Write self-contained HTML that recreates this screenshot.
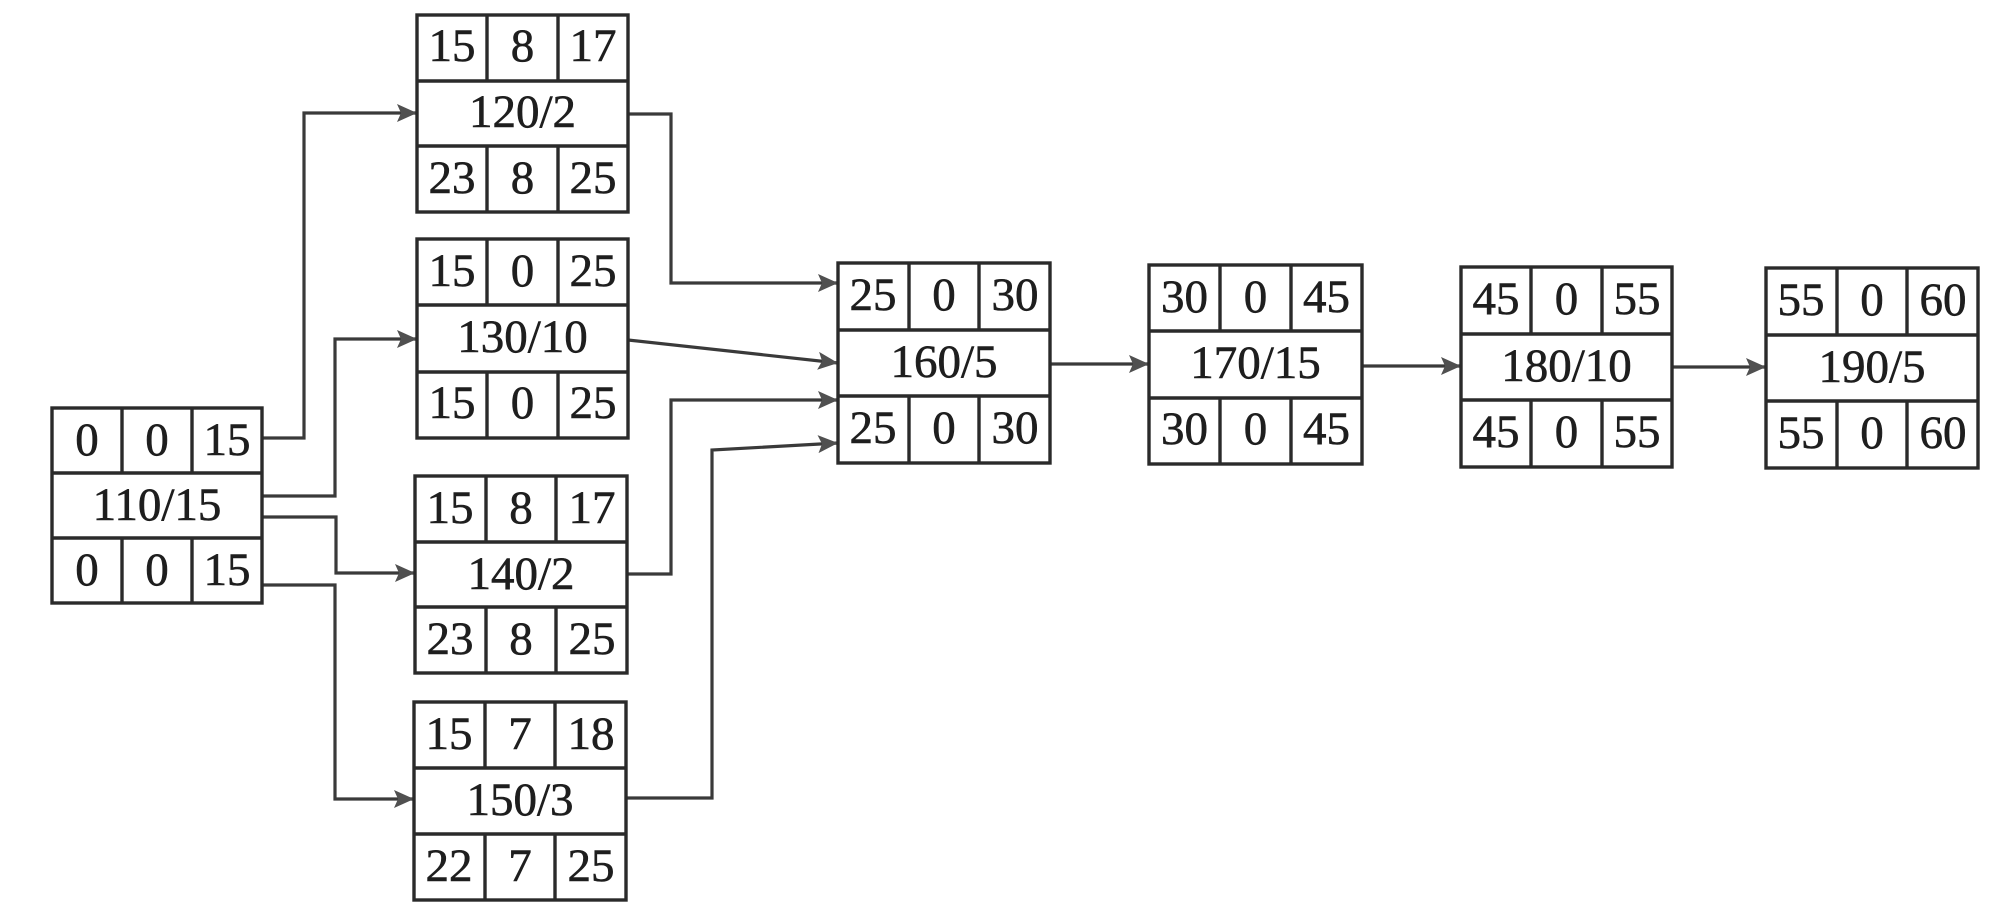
<!DOCTYPE html>
<html>
<head>
<meta charset="utf-8">
<style>
  html, body { margin: 0; padding: 0; background: #ffffff; }
  body { width: 2013px; height: 920px; overflow: hidden; }
  svg { display: block; }
  .box rect, .box line { stroke: #2a2a2a; stroke-width: 3.4; fill: none; }
  .box rect { fill: #ffffff; }
  text { font-family: "Liberation Serif", "Times New Roman", serif; font-size: 47px; fill: #1e1e1e; stroke: #1e1e1e; stroke-width: 0.6; text-anchor: middle; }
  .conn { fill: none; stroke: #3a3a3a; stroke-width: 3.2; stroke-linejoin: miter; }
</style>
</head>
<body>
<svg width="2013" height="920" viewBox="0 0 2013 920" xmlns="http://www.w3.org/2000/svg">
  <defs>
    <marker id="ah" viewBox="0 0 20 18" refX="20" refY="9" markerWidth="20" markerHeight="18" markerUnits="userSpaceOnUse" orient="auto">
      <path d="M0,0 L20,9 L0,18 L4,9 z" fill="#505050"/>
    </marker>
  </defs>

  <!-- connectors -->
  <path class="conn" d="M262,438 H304 V113 H417" marker-end="url(#ah)"/>
  <path class="conn" d="M262,496 H335 V339 H417" marker-end="url(#ah)"/>
  <path class="conn" d="M262,517 H336 V573 H415" marker-end="url(#ah)"/>
  <path class="conn" d="M262,585 H335 V799 H414" marker-end="url(#ah)"/>
  <path class="conn" d="M628,114 H671 V283 H838" marker-end="url(#ah)"/>
  <path class="conn" d="M628,340 L838,363" marker-end="url(#ah)"/>
  <path class="conn" d="M627,574 H671 V400 H838" marker-end="url(#ah)"/>
  <path class="conn" d="M626,798 H712 V450 L838,443" marker-end="url(#ah)"/>
  <path class="conn" d="M1050,364 H1149" marker-end="url(#ah)"/>
  <path class="conn" d="M1362,366 H1461" marker-end="url(#ah)"/>
  <path class="conn" d="M1672,367 H1766" marker-end="url(#ah)"/>

  <!-- A 110/15 -->
  <g class="box">
    <rect x="52" y="408" width="210" height="195"/>
    <line x1="52" y1="473" x2="262" y2="473"/>
    <line x1="52" y1="538" x2="262" y2="538"/>
    <line x1="122" y1="408" x2="122" y2="473"/>
    <line x1="192" y1="408" x2="192" y2="473"/>
    <line x1="122" y1="538" x2="122" y2="603"/>
    <line x1="192" y1="538" x2="192" y2="603"/>
  </g>
  <text x="87" y="455">0</text><text x="157" y="455">0</text><text x="227" y="455">15</text>
  <text x="157" y="520">110/15</text>
  <text x="87" y="585">0</text><text x="157" y="585">0</text><text x="227" y="585">15</text>

  <!-- B 120/2 -->
  <g class="box">
    <rect x="417" y="15" width="211" height="197"/>
    <line x1="417" y1="81" x2="628" y2="81"/>
    <line x1="417" y1="146" x2="628" y2="146"/>
    <line x1="487" y1="15" x2="487" y2="81"/>
    <line x1="558" y1="15" x2="558" y2="81"/>
    <line x1="487" y1="146" x2="487" y2="212"/>
    <line x1="558" y1="146" x2="558" y2="212"/>
  </g>
  <text x="452" y="61">15</text><text x="522.5" y="61">8</text><text x="593" y="61">17</text>
  <text x="522.5" y="127">120/2</text>
  <text x="452" y="193">23</text><text x="522.5" y="193">8</text><text x="593" y="193">25</text>

  <!-- C 130/10 -->
  <g class="box">
    <rect x="417" y="239" width="211" height="199"/>
    <line x1="417" y1="305" x2="628" y2="305"/>
    <line x1="417" y1="372" x2="628" y2="372"/>
    <line x1="487" y1="239" x2="487" y2="305"/>
    <line x1="558" y1="239" x2="558" y2="305"/>
    <line x1="487" y1="372" x2="487" y2="438"/>
    <line x1="558" y1="372" x2="558" y2="438"/>
  </g>
  <text x="452" y="286">15</text><text x="522.5" y="286">0</text><text x="593" y="286">25</text>
  <text x="522.5" y="352">130/10</text>
  <text x="452" y="418">15</text><text x="522.5" y="418">0</text><text x="593" y="418">25</text>

  <!-- D 140/2 -->
  <g class="box">
    <rect x="415" y="476" width="212" height="197"/>
    <line x1="415" y1="542" x2="627" y2="542"/>
    <line x1="415" y1="607" x2="627" y2="607"/>
    <line x1="486" y1="476" x2="486" y2="542"/>
    <line x1="556" y1="476" x2="556" y2="542"/>
    <line x1="486" y1="607" x2="486" y2="673"/>
    <line x1="556" y1="607" x2="556" y2="673"/>
  </g>
  <text x="450" y="523">15</text><text x="521" y="523">8</text><text x="592" y="523">17</text>
  <text x="521" y="589">140/2</text>
  <text x="450" y="654">23</text><text x="521" y="654">8</text><text x="592" y="654">25</text>

  <!-- E 150/3 -->
  <g class="box">
    <rect x="414" y="702" width="212" height="198"/>
    <line x1="414" y1="768" x2="626" y2="768"/>
    <line x1="414" y1="834" x2="626" y2="834"/>
    <line x1="485" y1="702" x2="485" y2="768"/>
    <line x1="555" y1="702" x2="555" y2="768"/>
    <line x1="485" y1="834" x2="485" y2="900"/>
    <line x1="555" y1="834" x2="555" y2="900"/>
  </g>
  <text x="449" y="749">15</text><text x="520" y="749">7</text><text x="591" y="749">18</text>
  <text x="520" y="815">150/3</text>
  <text x="449" y="881">22</text><text x="520" y="881">7</text><text x="591" y="881">25</text>

  <!-- F 160/5 -->
  <g class="box">
    <rect x="838" y="263" width="212" height="200"/>
    <line x1="838" y1="330" x2="1050" y2="330"/>
    <line x1="838" y1="396" x2="1050" y2="396"/>
    <line x1="909" y1="263" x2="909" y2="330"/>
    <line x1="979" y1="263" x2="979" y2="330"/>
    <line x1="909" y1="396" x2="909" y2="463"/>
    <line x1="979" y1="396" x2="979" y2="463"/>
  </g>
  <text x="873" y="310">25</text><text x="944" y="310">0</text><text x="1015" y="310">30</text>
  <text x="944" y="377">160/5</text>
  <text x="873" y="443">25</text><text x="944" y="443">0</text><text x="1015" y="443">30</text>

  <!-- G 170/15 -->
  <g class="box">
    <rect x="1149" y="265" width="213" height="199"/>
    <line x1="1149" y1="331" x2="1362" y2="331"/>
    <line x1="1149" y1="398" x2="1362" y2="398"/>
    <line x1="1220" y1="265" x2="1220" y2="331"/>
    <line x1="1291" y1="265" x2="1291" y2="331"/>
    <line x1="1220" y1="398" x2="1220" y2="464"/>
    <line x1="1291" y1="398" x2="1291" y2="464"/>
  </g>
  <text x="1184.5" y="312">30</text><text x="1255.5" y="312">0</text><text x="1326.5" y="312">45</text>
  <text x="1255.5" y="378">170/15</text>
  <text x="1184.5" y="444">30</text><text x="1255.5" y="444">0</text><text x="1326.5" y="444">45</text>

  <!-- H 180/10 -->
  <g class="box">
    <rect x="1461" y="267" width="211" height="200"/>
    <line x1="1461" y1="334" x2="1672" y2="334"/>
    <line x1="1461" y1="400" x2="1672" y2="400"/>
    <line x1="1531" y1="267" x2="1531" y2="334"/>
    <line x1="1602" y1="267" x2="1602" y2="334"/>
    <line x1="1531" y1="400" x2="1531" y2="467"/>
    <line x1="1602" y1="400" x2="1602" y2="467"/>
  </g>
  <text x="1496" y="314">45</text><text x="1566.5" y="314">0</text><text x="1637" y="314">55</text>
  <text x="1566.5" y="381">180/10</text>
  <text x="1496" y="447">45</text><text x="1566.5" y="447">0</text><text x="1637" y="447">55</text>

  <!-- I 190/5 -->
  <g class="box">
    <rect x="1766" y="268" width="212" height="200"/>
    <line x1="1766" y1="335" x2="1978" y2="335"/>
    <line x1="1766" y1="401" x2="1978" y2="401"/>
    <line x1="1837" y1="268" x2="1837" y2="335"/>
    <line x1="1907" y1="268" x2="1907" y2="335"/>
    <line x1="1837" y1="401" x2="1837" y2="468"/>
    <line x1="1907" y1="401" x2="1907" y2="468"/>
  </g>
  <text x="1801" y="315">55</text><text x="1872" y="315">0</text><text x="1943" y="315">60</text>
  <text x="1872" y="382">190/5</text>
  <text x="1801" y="448">55</text><text x="1872" y="448">0</text><text x="1943" y="448">60</text>
</svg>
</body>
</html>
